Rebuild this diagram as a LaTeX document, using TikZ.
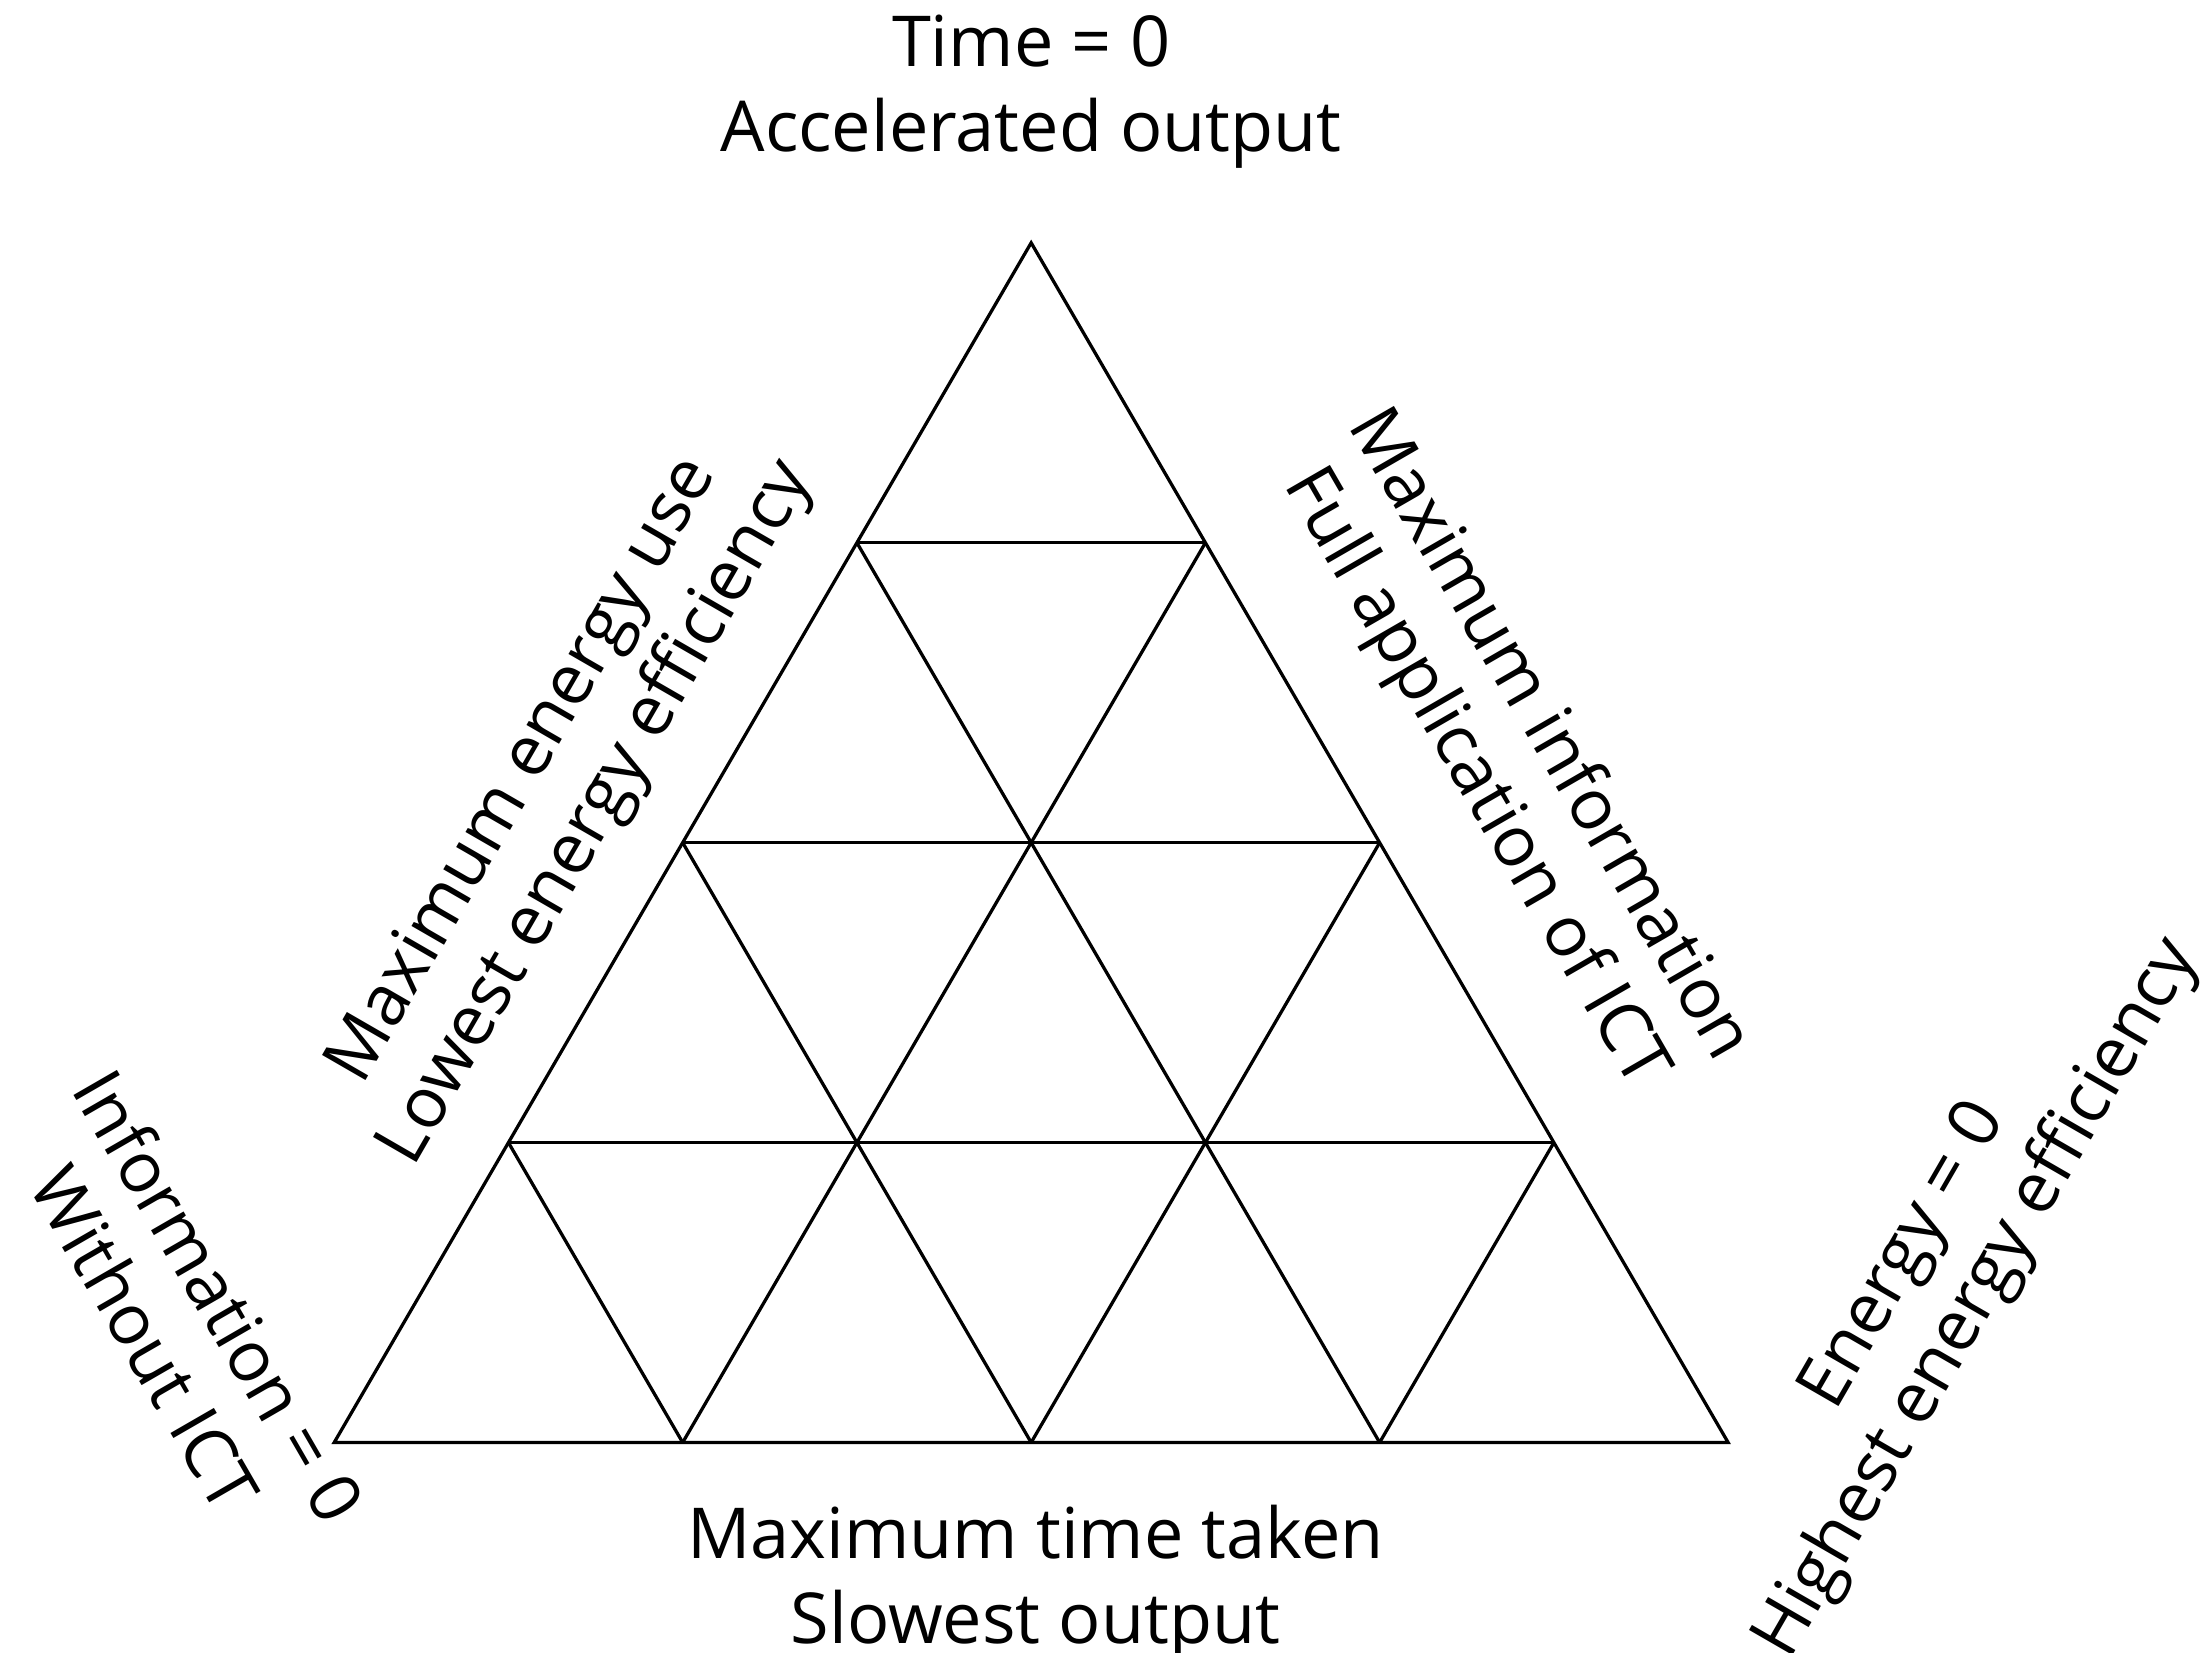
\documentclass[tikz,border=0pt]{standalone}
\usepackage{fontspec}
\setmainfont{Open Sans}
\begin{document}
\begin{tikzpicture}[x=0.02cm,y=-0.02cm,
  lab/.style={align=center,font=\fontsize{28}{34}\selectfont,inner sep=0pt},
  edge/.style={line width=1.3pt,line join=miter}]
\useasboundingbox (0,0) rectangle (1546,1157);
\draw[edge] (234,1010) -- (1210,1010) -- (722,170) -- cycle;
\foreach \k in {1,2,3}{
  \draw[edge] ({234+122*\k},{1010-210*\k}) -- ({234+244*(4-\k)+122*\k},{1010-210*\k});
  \draw[edge] ({234+244*\k},1010) -- ({234+244*\k+122*(4-\k)},{1010-210*(4-\k)});
  \draw[edge] ({234+244*\k},1010) -- ({234+122*\k},{1010-210*\k});
}
\node[lab] (top) at (722,64) {Time = 0\\Accelerated output};
\node[lab] (bot) at (725,1108) {Maximum time taken\\Slowest output};
\node[lab,rotate=60] (left) at (393,555) {Maximum energy use\\Lowest energy efficiency};
\node[lab,rotate=-60] (right) at (1058,530) {Maximum information\\Full application of ICT};
\node[lab,rotate=-60] (bl) at (128,922) {Information = 0\\Without ICT};
\node[lab,rotate=60] (br) at (1360,895) {Energy = 0\\Highest energy efficiency};
\end{tikzpicture}
\end{document}
